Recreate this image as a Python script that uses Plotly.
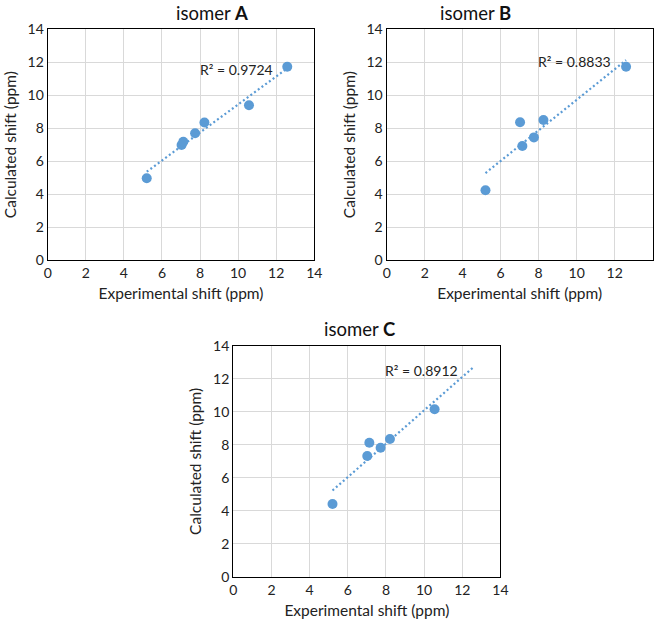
import numpy as np
import plotly.graph_objects as go

# ---- data ----
isomer_names = ["A", "B", "C"]
exp_A = [5.2, 7.03, 7.12, 7.74, 8.23, 10.57, 12.58]
calc_A = [4.96, 6.98, 7.18, 7.69, 8.34, 9.39, 11.73]
exp_B = [5.2, 7.02, 7.14, 7.75, 8.25, 12.6]
calc_B = [4.23, 8.36, 6.92, 7.44, 8.50, 11.73]
exp_C = [5.2, 7.02, 7.13, 7.72, 8.21, 10.55]
calc_C = [4.41, 7.32, 8.13, 7.83, 8.36, 10.16]
trend_x_end = [12.6, 12.6, 12.6]
r2_labels = ["R² = 0.9724", "R² = 0.8833", "R² = 0.8912"]
tick_vals = [0, 2, 4, 6, 8, 10, 12, 14]

BLUE = "#5b9bd5"
FONT = "Lato, 'Open Sans', sans-serif"

fig = go.Figure()

series = [(exp_A, calc_A), (exp_B, calc_B), (exp_C, calc_C)]
x_domains = [[0.0723, 0.4762], [0.5859, 0.9889], [0.3535, 0.7582]]
y_domains = [[0.5853, 0.9533], [0.5853, 0.9533], [0.0802, 0.4482]]
r2_pos = [(9.93, 11.55), (9.91, 12.03), (9.87, 12.54)]

for i, (xs, ys) in enumerate(series):
    n = "" if i == 0 else str(i + 1)
    xr, yr = "x" + n, "y" + n
    slope, icpt = np.polyfit(xs, ys, 1)
    tx = np.array([min(xs), trend_x_end[i]])
    fig.add_trace(go.Scatter(x=tx, y=slope * tx + icpt, mode="lines",
                             line=dict(color=BLUE, width=2.2, dash="2px,2.6px"),
                             xaxis=xr, yaxis=yr, showlegend=False, hoverinfo="skip"))
    fig.add_trace(go.Scatter(x=xs, y=ys, mode="markers",
                             marker=dict(color=BLUE, size=10),
                             xaxis=xr, yaxis=yr, showlegend=False))
    axcommon = dict(range=[0, 14], tickvals=tick_vals, showgrid=True,
                    gridcolor="#d9d9d9", gridwidth=1, showline=True,
                    linecolor="black", linewidth=1.3, mirror=True, zeroline=False,
                    ticks="", automargin=False,
                    tickfont=dict(family=FONT, size=14, color="#222"))
    fig.update_layout(**{
        "xaxis" + n: dict(axcommon, domain=x_domains[i], anchor=yr,
                          title=dict(text="Experimental shift (ppm)",
                                     font=dict(family=FONT, size=15.5, color="#222"),
                                     standoff=8)),
        "yaxis" + n: dict(axcommon, domain=y_domains[i], anchor=xr,
                          title=dict(text="Calculated shift (ppm)",
                                     font=dict(family=FONT, size=15.5, color="#222"),
                                     standoff=7)),
    })
    fig.add_annotation(x=r2_pos[i][0], y=r2_pos[i][1], xref=xr, yref=yr,
                       text=r2_labels[i], showarrow=False,
                       font=dict(family=FONT, size=14, color="#222"))
    fig.add_annotation(x=sum(x_domains[i]) / 2 - 0.01, y=y_domains[i][1] + 0.006,
                       xref="paper", yref="paper", yanchor="bottom",
                       text="isomer <b>" + isomer_names[i] + "</b>", showarrow=False,
                       font=dict(family=FONT, size=18.5, color="#111"))

fig.update_layout(width=660, height=627, margin=dict(l=0, r=0, t=0, b=0),
                  paper_bgcolor="white", plot_bgcolor="white")

fig.write_html("out.html", config={"displayModeBar": False},
               post_script="document.body.style.margin='0px';")
